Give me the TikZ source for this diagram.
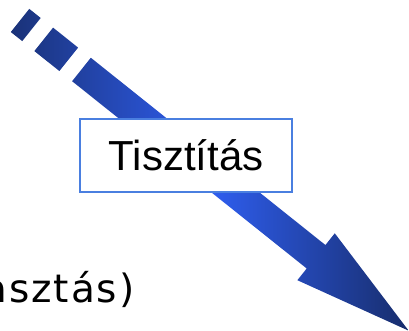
\documentclass[tikz,border=0pt]{standalone}
\usepackage{fontspec}
\setmainfont{Liberation Sans}
\newfontfamily\handfont[LetterSpace=5]{DejaVu Sans}
\usepackage{tikz}
\usepackage{xcolor}
\usetikzlibrary{
    calc,
    positioning
}
\definecolor{arrownavy}{HTML}{1A3278}
\definecolor{arrowblue}{HTML}{2F5EF0}
\definecolor{boxline}{HTML}{4A7FE0}

\begin{document}
\begin{tikzpicture}[x=1pt,y=-1pt]
    \useasboundingbox (0,0) rectangle (409,331);
    \clip (0,0) rectangle (409,331);
    % dashed arrow, drawn along its own axis
    \begin{scope}[shift={(25.75,25)},rotate=-38.6]
        \shade[
            left color=arrownavy,
            right color=arrownavy!90!black,
            middle color=arrowblue,
        ]
            (-7.3,-14.8) rectangle (7.3,14.8)
            (23,-15) rectangle (55,15)
            (71.3,-15) -- (371.5,-15) -- (371.5,-30) -- (490,0)
            -- (371.5,30) -- (371.5,15) -- (71.3,15) -- cycle;
    \end{scope}
    \node[
        draw=boxline,
        line width=1.2pt,
        fill=white,
        minimum width=212pt,
        minimum height=73pt,
        inner sep=0pt,
        font=\fontsize{42}{48}\selectfont,
    ] (cleaning) at (186,155.5) {Tisztítás};
    \node[
        anchor=base east,
        font=\handfont\fontsize{39}{44}\selectfont,
    ] (choice) at (138,302) {asztás)};
\end{tikzpicture}
\end{document}
